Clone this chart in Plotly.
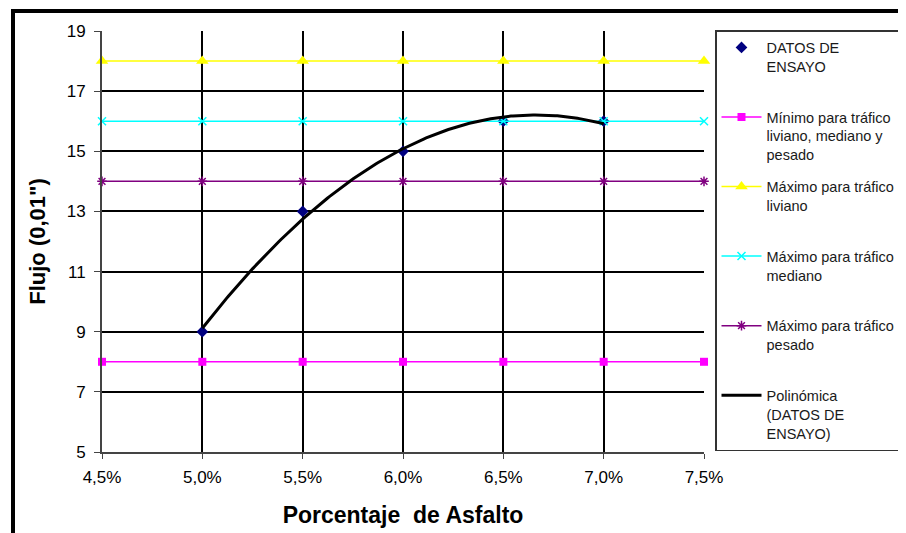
import numpy as np
import plotly.graph_objects as go

# Data
pct_asfalto = [5.0, 5.5, 6.0, 6.5, 7.0]
flujo = [9, 13, 15, 16, 16]
limit_x = [4.5, 5.0, 5.5, 6.0, 6.5, 7.0, 7.5]
min_todos = [8, 8, 8, 8, 8, 8, 8]
max_liviano = [18, 18, 18, 18, 18, 18, 18]
max_mediano = [16, 16, 16, 16, 16, 16, 16]
max_pesado = [14, 14, 14, 14, 14, 14, 14]
x_tickvals = [4.5, 5.0, 5.5, 6.0, 6.5, 7.0, 7.5]
x_ticktext = ["4,5%", "5,0%", "5,5%", "6,0%", "6,5%", "7,0%", "7,5%"]
y_tickvals = [5, 7, 9, 11, 13, 15, 17, 19]

# Polynomial trendline (order 2) from the test data
coef = np.polyfit(pct_asfalto, flujo, 2)
xs = np.linspace(min(pct_asfalto), max(pct_asfalto), 200)
ys = np.polyval(coef, xs)

pad = "<br> "
fig = go.Figure()
fig.add_trace(go.Scatter(x=pct_asfalto, y=flujo, mode="markers", name="DATOS DE<br>ENSAYO" + pad,
                         marker=dict(symbol="diamond", size=9, color="#000080"), legendgroup="a"))
fig.add_trace(go.Scatter(x=limit_x, y=min_todos, mode="lines+markers",
                         name="Mínimo para tráfico<br>liviano, mediano y<br>pesado",
                         line=dict(color="#FF00FF", width=1.5),
                         marker=dict(symbol="square", size=8, color="#FF00FF"), cliponaxis=False, legendgroup="b"))
fig.add_trace(go.Scatter(x=limit_x, y=max_liviano, mode="lines+markers",
                         name="Máximo para tráfico<br>liviano" + pad,
                         line=dict(color="#FFFF00", width=1.5),
                         marker=dict(symbol="triangle-up", size=11, color="#FFFF00"), cliponaxis=False, legendgroup="c"))
fig.add_trace(go.Scatter(x=limit_x, y=max_mediano, mode="lines+markers",
                         name="Máximo para tráfico<br>mediano" + pad,
                         line=dict(color="#00FFFF", width=1.5),
                         marker=dict(symbol="x-thin-open", size=8, color="#00FFFF", line=dict(color="#00FFFF", width=1.5)),
                         cliponaxis=False, legendgroup="d"))
fig.add_trace(go.Scatter(x=limit_x, y=max_pesado, mode="lines+markers",
                         name="Máximo para tráfico<br>pesado" + pad,
                         line=dict(color="#800080", width=1.5),
                         marker=dict(symbol="asterisk-open", size=8, color="#800080", line=dict(color="#800080", width=1.5)),
                         cliponaxis=False, legendgroup="e"))
fig.add_trace(go.Scatter(x=xs, y=ys, mode="lines", name="Polinómica<br>(DATOS DE<br>ENSAYO)",
                         line=dict(color="black", width=3), legendgroup="f"))

# the page body adds an 8px offset; compensate so the picture lands where the reference is
OFF = 8
W, H = 906, 533
L, T = 102 - OFF, 31 - OFF
R, B = W - (704 - OFF), H - (452 - OFF)
pw, ph = W - L - R, H - T - B

def px_x(p):
    return (p - OFF - L) / pw

def px_y(p):
    return 1 - (p - OFF - T) / ph

fig.update_layout(
    width=W, height=H,
    margin=dict(l=L, r=R, t=T, b=B, autoexpand=False),
    paper_bgcolor="white", plot_bgcolor="white",
    font=dict(family="Liberation Sans, Arial, sans-serif", color="black"),
    showlegend=True,
    legend=dict(x=px_x(715), y=px_y(30), xanchor="left", yanchor="top",
                bordercolor="#333333", borderwidth=1.5, bgcolor="white",
                font=dict(size=14.5, color="#1a1a1a"), valign="top",
                traceorder="grouped", tracegroupgap=10, itemwidth=40, maxheight=2000),
    xaxis=dict(range=[4.5, 7.5], tickvals=x_tickvals, ticktext=x_ticktext,
               showgrid=True, gridcolor="black", gridwidth=1.5,
               showline=True, linecolor="#444444", linewidth=2,
               ticks="outside", ticklen=5, tickcolor="#444444",
               tickfont=dict(size=17), zeroline=False, automargin=False, ticklabelstandoff=4,
               title=dict(text="<b>Porcentaje  de Asfalto</b>", font=dict(size=23), standoff=20)),
    yaxis=dict(range=[5, 19], tickvals=y_tickvals,
               showgrid=True, gridcolor="black", gridwidth=1.5,
               showline=True, linecolor="#444444", linewidth=2,
               ticks="outside", ticklen=6, tickcolor="#444444",
               tickfont=dict(size=17), zeroline=False, automargin=False, ticklabelstandoff=5,
               title=dict(text="<b>Flujo (0,01\")</b>", font=dict(size=22), standoff=15)),
    shapes=[
        dict(type="line", xref="paper", yref="paper", x0=px_x(11), x1=px_x(920), y0=px_y(11), y1=px_y(11),
             line=dict(color="black", width=4)),
        dict(type="line", xref="paper", yref="paper", x0=px_x(13), x1=px_x(13), y0=px_y(9), y1=px_y(545),
             line=dict(color="black", width=4)),
    ],
)

fig.write_html("out.html")
